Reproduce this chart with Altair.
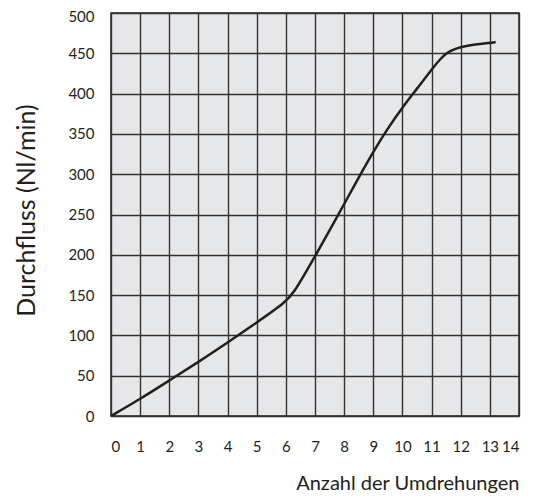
import altair as alt
import pandas as pd

revs = [0, 1, 2, 3, 4, 5, 6, 6.3, 6.6, 7, 7.5, 8, 8.5, 9, 9.5, 10, 10.5, 11, 11.3, 11.5, 11.7, 12, 12.5, 13, 13.2]
flow = [0, 21, 44, 67, 91, 116, 141, 155, 173, 198, 230, 263, 296, 328, 357, 383, 406, 430, 443, 450, 454, 458, 461, 463, 464]

x_ticks = list(range(0, 15))
y_ticks = list(range(0, 501, 50))

df = pd.DataFrame({"u": revs, "q": flow})

FONT = "Lato"

chart = alt.Chart(df).mark_line(
    color="#231f20", strokeWidth=2.5, interpolate="basis"
).encode(
    x=alt.X("u:Q",
            scale=alt.Scale(domain=[0, 14], nice=False, zero=False),
            axis=alt.Axis(values=x_ticks, format="d", grid=True, gridColor="#333333",
                          gridWidth=1.4, gridOpacity=1, ticks=False, tickSize=0,
                          domain=False, labelFont=FONT, labelFontSize=15,
                          labelColor="#231f20", labelPadding=23,
                          title="Anzahl der Umdrehungen", titleFont=FONT,
                          titleFontSize=20, titleFontWeight="normal",
                          titleColor="#231f20", titleAlign="right",
                          titleBaseline="alphabetic", titleX=408, titleY=73)),
    y=alt.Y("q:Q",
            scale=alt.Scale(domain=[0, 500], nice=False),
            axis=alt.Axis(values=y_ticks, grid=True, gridColor="#333333",
                          gridWidth=1.4, gridOpacity=1, ticks=False, tickSize=0,
                          domain=False, labelFont=FONT, labelFontSize=15,
                          labelColor="#231f20", labelPadding=17,
                          labelOffset={"condition": {"test": "datum.value === 500", "value": 3}, "value": 0},
                          title="Durchfluss (Nl/min)", titleFont=FONT,
                          titleFontSize=25, titleFontWeight="normal",
                          titleColor="#231f20", titleAngle=-90,
                          titleAlign="center", titleBaseline="alphabetic",
                          titleX=-77, titleY=197)),
).properties(
    width=408, height=403,
    autosize="none",
    padding={"left": 103, "top": 5, "right": 7, "bottom": 80},
).configure_view(
    fill="#e6e7e9", stroke="#231f20", strokeWidth=1.5
)

chart.save("out.html", embed_options={"renderer": "svg", "actions": False})
